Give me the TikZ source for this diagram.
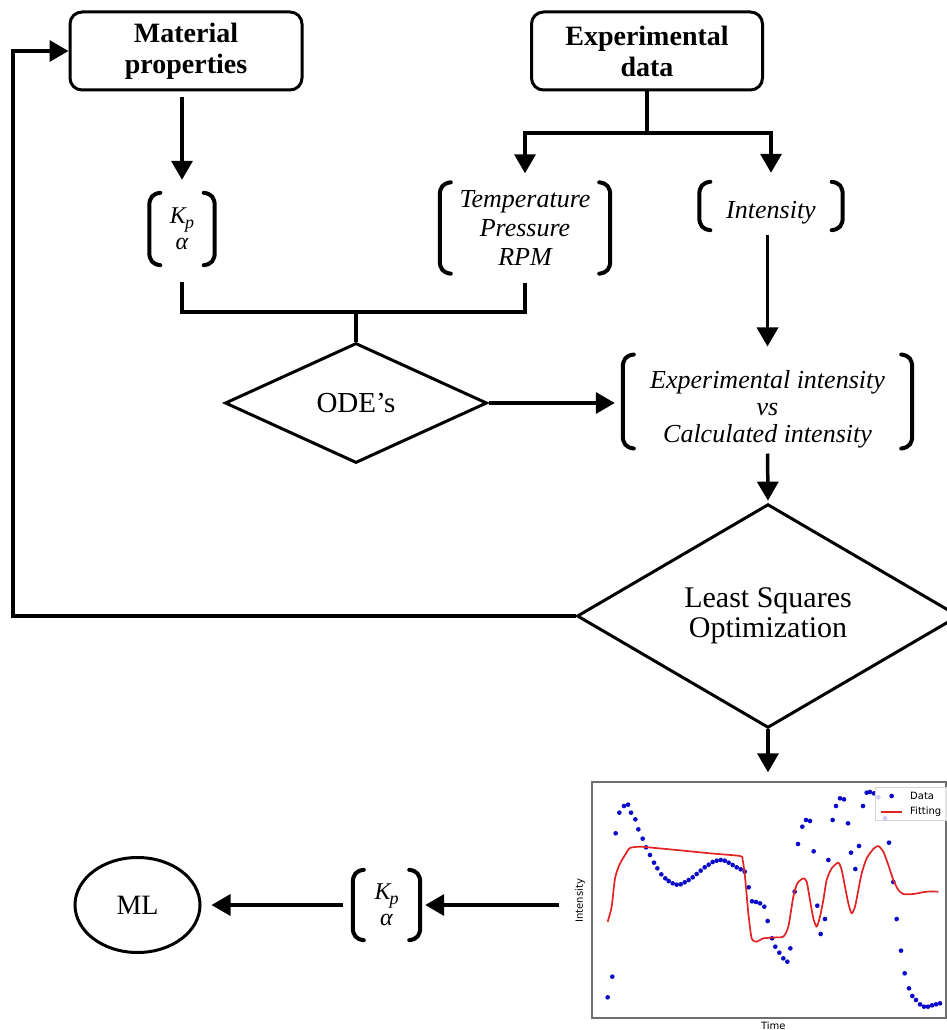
\documentclass[tikz,border=0pt]{standalone}
\usepackage{fontspec}
\setmainfont{Liberation Serif}
\newfontfamily\plotfont{DejaVu Sans}
\usetikzlibrary{arrows.meta,shapes.geometric,calc}
\newcommand\drawbrk[1]{%
\draw[brkline] ($(#1.north west)+(11,0)$) .. controls +(-8,1) and +(0,-8) .. ($(#1.north west)+(0,13)$) -- ($(#1.south west)+(0,-13)$) .. controls +(0,8) and +(-8,-1) .. ($(#1.south west)+(11,0)$);
\draw[brkline] ($(#1.north east)+(-11,0)$) .. controls +(8,1) and +(0,-8) .. ($(#1.north east)+(0,13)$) -- ($(#1.south east)+(0,-13)$) .. controls +(0,8) and +(8,-1) .. ($(#1.south east)+(-11,0)$);}
\newcommand\kpalpha{K\kern-1pt\raisebox{-5pt}{\fontsize{18}{18}\selectfont p}\\[-1pt]α}
\begin{document}
\begin{tikzpicture}[x=1pt,y=-1pt,
  ln/.style={line width=3.5pt},
  arr/.style={line width=3.5pt,-{Triangle[width=21pt,length=19pt]}},
  rbox/.style={draw,line width=3pt,rounded corners=12pt,fill=white,align=center,inner sep=0pt},
  dia/.style={draw,diamond,line width=3pt,inner sep=0pt,align=center,fill=white},
  brk/.style={inner sep=0pt,align=center},
  brkline/.style={line width=4pt,line cap=round},
  ittext/.style={font=\fontsize{26}{29}\selectfont\itshape},
  kptext/.style={font=\fontsize{24}{27}\selectfont\itshape},
  dotc/.style={fill={rgb,255:red,10;green,10;blue,200}},
  fitline/.style={draw={rgb,255:red,225;green,35;blue,35},line width=1.7pt,line join=round},
  plottext/.style={font=\plotfont\fontsize{10}{10}\selectfont,inner sep=0pt}
]
\useasboundingbox (0,0) rectangle (947,1030);

% nodes
\node[rbox,minimum width=232pt,minimum height=78pt,font=\fontsize{28}{31}\selectfont\bfseries] (mat) at (186,51) {Material\\properties};
\node[rbox,minimum width=231pt,minimum height=78pt,font=\fontsize{28}{31}\selectfont\bfseries] (exp) at (647,51) {Experimental\\data};
\node[brk,kptext,minimum width=65pt,minimum height=72pt] (kp1) at (182,229) {\kpalpha};
\node[brk,ittext,minimum width=170pt,minimum height=91pt] (tpr) at (525,228) {Temperature\\Pressure\\RPM};
\node[brk,ittext,minimum width=143pt,minimum height=48pt] (int) at (771,206) {};
\node[ittext,inner sep=0pt] (inttxt) at (771,213) {Intensity};
\node[brk,font=\fontsize{26}{27}\selectfont\itshape,minimum width=289pt,minimum height=93pt] (eci) at (767.5,401.5) {\rule{0pt}{34pt}Experimental intensity\\vs\\Calculated intensity};
\node[dia,minimum width=262pt,minimum height=120pt,font=\fontsize{29}{30}\selectfont] (ode) at (356,403) {ODE's};
\node[dia,minimum width=382pt,minimum height=146pt,font=\fontsize{30}{30}\selectfont] (lsq) at (768,616) {Least Squares\\Optimization};
\node[draw={rgb,255:red,110;green,110;blue,110},line width=1.3pt,minimum width=354pt,minimum height=236pt,inner sep=0pt] (plot) at (769,900) {};
\node[brk,kptext,minimum width=67pt,minimum height=70pt] (kp2) at (386.5,905) {\kpalpha};
\node[draw,ellipse,line width=3pt,minimum width=125pt,minimum height=95pt,font=\fontsize{28}{30}\selectfont] (ml) at (137.5,905) {ML};

\drawbrk{kp1}
\drawbrk{tpr}
\drawbrk{int}
\drawbrk{eci}
\drawbrk{kp2}

\coordinate (split) at (647,133);
\coordinate (jn) at (356,312);
\coordinate (fb) at (13,616);

% connectors
\draw[arr,shorten <=6pt,shorten >=13pt] (mat.south -| kp1.north) -- (kp1.north);
\draw[ln] (exp.south) -- (split);
\draw[arr,shorten >=9pt] (split) -| (tpr.north);
\draw[arr,shorten >=9pt] (split) -| (int.north);
\draw[ln] ($(kp1.south)+(0,17)$) |- (jn) -| ($(tpr.south)+(0,9)$);
\draw[ln] (jn) -- (ode.north);
\draw[arr,shorten >=8pt] (ode.east) -- (ode.east -| eci.west);
\draw[arr,shorten <=5pt,shorten >=8pt] (eci.north |- int.south) -- (eci.north);
\draw[arr,shorten <=5pt,shorten >=2pt] (eci.south) -- (lsq.north);
\draw[arr] (lsq.west) -- (fb) |- (mat.west);
\draw[arr,shorten >=9pt] (lsq.south) -- (lsq.south |- plot.north);
\draw[arr,shorten <=32pt,shorten >=5pt] (kp2.east -| plot.west) -- (kp2.east);
\draw[arr,shorten <=10pt,shorten >=10pt] (kp2.west) -- (ml.east);

% plot contents
\begin{scope}[shift={(560,770)},scale=0.33333]
\foreach \a/\b in {143/682, 157/620, 167/190, 178/128, 192/108, 204/104, 213/128, 226/148, 235/178, 248/206, 258/232, 270/255, 282/278, 292/295, 304/313, 316/325, 326/333, 338/340, 350/344, 362/343, 374/337, 386/330, 398/322, 410/312, 422/302, 434/292, 446/284, 458/276, 470/272, 482/270, 494/272, 506/278, 518/285, 530/292, 542/298, 554/305, 566/352, 576/394, 588/396, 600/400, 613/410, 623/453, 636/505, 646/530, 658/548, 670/565, 682/575, 691/535, 704/365, 714/222, 727/170, 738/150, 750/153, 761/244, 772/407, 782/492, 795/447, 805/270, 818/150, 828/108, 840/85, 852/88, 864/160, 873/248, 886/297, 897/228, 909/108, 920/68, 930/66, 942/70, 955/82, 975/145, 987/218, 1000/336, 1010/447, 1023/542, 1034/610, 1047/655, 1057/678, 1068/690, 1080/703, 1092/710, 1104/710, 1116/706, 1128/703, 1140/700}
  \fill[dotc] (\a,\b) circle[radius=7];
\draw[fitline] plot[smooth,tension=0.4] coordinates {(143,455) (155,410) (165,325) (178,285) (195,255) (210,234) (240,230) (265,232) (350,240) (450,250) (540,258) (548,270) (555,320) (565,430) (575,505) (590,515) (610,505) (650,502) (670,500) (685,470) (700,380) (712,340) (730,325) (740,335) (750,390) (760,445) (770,470) (780,440) (790,390) (800,330) (815,295) (835,278) (845,300) (855,350) (865,400) (875,430) (885,410) (895,360) (905,310) (920,265) (940,237) (955,228) (970,245) (985,285) (1000,330) (1015,360) (1030,372) (1060,372) (1100,365) (1135,365)};
% legend
\fill[white,fill opacity=0.8] (945,52) rectangle (1180,152);
\draw[gray!35,line width=0.6pt] (1180,52) -- (945,52) -- (945,152) -- (1180,152);
\fill[dotc] (995,78) circle[radius=7];
\draw[fitline,line width=2pt] (962,125) -- (1025,125);
\node[plottext,anchor=west] (legd) at (1050,78) {Data};
\node[plottext,anchor=west] (legf) at (1050,125) {Fitting};
\node[plottext] (xlab) at (640,766) {Time};
\node[plottext,rotate=90] (ylab) at (60,392) {Intensity};
\end{scope}
\end{tikzpicture}
\end{document}
